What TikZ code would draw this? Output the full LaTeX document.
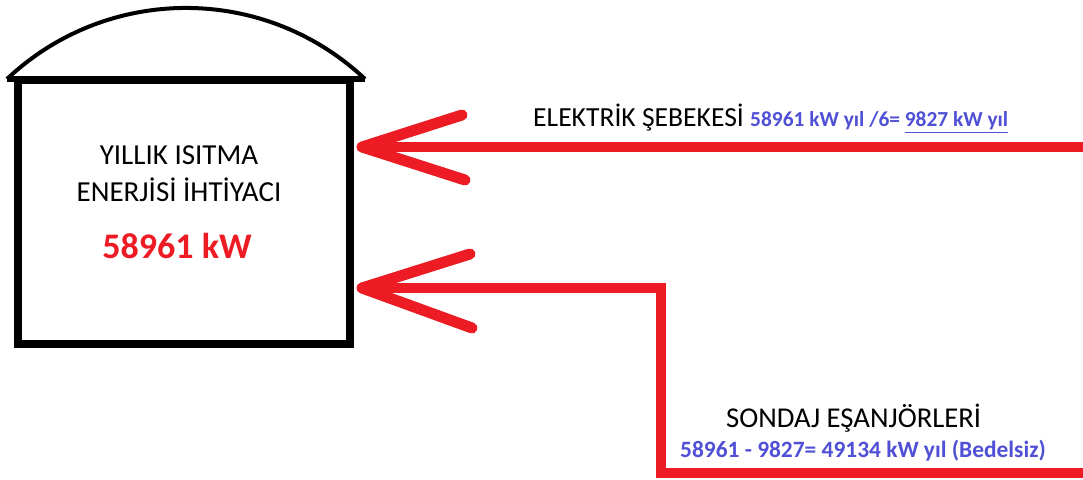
\documentclass[tikz,border=0pt]{standalone}
\usepackage{fontspec}
\setmainfont{Carlito}
\definecolor{pred}{RGB}{237,28,36}
\definecolor{pblue}{RGB}{80,80,215}
\begin{document}
\begin{tikzpicture}[x=1pt,y=1pt,
  wall/.style={line width=8pt},
  pipe/.style={draw=pred,line width=9.5pt},
  barb/.style={draw=pred,line width=11pt,line cap=round,line join=round},
  lbl/.style={inner sep=0pt,anchor=base west},
  boxtxt/.style={inner sep=0pt,anchor=base,font=\fontsize{29}{33}\selectfont}]
\useasboundingbox[fill=white] (0,0) rectangle (1083,479);
% tank
\node[wall,draw,minimum width=332.5pt,minimum height=264pt,inner sep=0pt] (tank) at (183.75,267) {};
\draw[line width=6pt] (7,400) coordinate (domeL) -- (365,400) coordinate (domeR);
\draw[line width=4pt] (domeL) arc[start angle=133.3,end angle=46.7,radius=261];
% texts in tank
\node[boxtxt] (t1) at (179,314) {YILLIK ISITMA};
\node[boxtxt] (t2) at (179,277) {ENERJİSİ İHTİYACI};
\node[boxtxt,text=pred,font=\fontsize{36}{42}\selectfont\bfseries] (t3) at (177,220) {58961 kW};
% upper arrow
\coordinate (tipA) at (362,332);
\coordinate (srcA) at (1083,332);
\coordinate (barbA1) at (462,364);
\coordinate (barbA2) at (465,299);
\draw[pipe] (srcA) -- (tipA);
\draw[barb] (barbA1) -- (tipA) -- (barbA2);
% lower arrow
\coordinate (tipB) at (362,191);
\coordinate (srcB) at (1083,6);
\coordinate (bend1) at (661,6);
\coordinate (bend2) at (661,191);
\coordinate (barbB1) at (470,225);
\coordinate (barbB2) at (472,151);
\draw[pipe,line join=miter] (srcB) -- (bend1) -- (bend2) -- (tipB);
\draw[barb] (barbB1) -- (tipB) -- (barbB2);
% labels
\node[lbl,font=\fontsize{27.6}{31}\selectfont] (el) at (533,352) {ELEKTRİK ŞEBEKESİ};
\node[lbl,text=pblue,font=\fontsize{21.4}{26}\selectfont\bfseries] (elv) at (750,352) {58961 kW yıl /6= \underline{9827 kW yıl}};
\node[lbl,font=\fontsize{28.7}{32}\selectfont] (so) at (726,52) {SONDAJ EŞANJÖRLERİ};
\node[lbl,text=pblue,font=\fontsize{23.4}{27}\selectfont\bfseries] (sov) at (680,22) {58961 - 9827= 49134 kW yıl (Bedelsiz)};
\end{tikzpicture}
\end{document}
